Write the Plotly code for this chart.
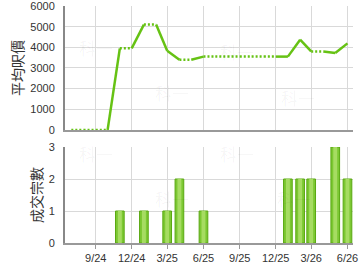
import plotly.graph_objects as go

months = ["2024-07-01","2024-08-01","2024-09-01","2024-10-01","2024-11-01","2024-12-01",
          "2025-01-01","2025-02-01","2025-03-01","2025-04-01","2025-05-01","2025-06-01",
          "2025-07-01","2025-08-01","2025-09-01","2025-10-01","2025-11-01","2025-12-01",
          "2026-01-01","2026-02-01","2026-03-01","2026-04-01","2026-05-01","2026-06-01"]
avg_price = [0,0,0,0,3950,3950,5100,5100,3830,3400,3400,3550,
             3550,3550,3550,3550,3550,3550,3550,4370,3800,3800,3720,4190]
deals = [0,0,0,0,1,0,1,0,1,2,0,1,0,0,0,0,0,0,2,2,2,0,3,2]

tick_vals = ["2024-09-01","2024-12-01","2025-03-01","2025-06-01","2025-09-01","2025-12-01","2026-03-01","2026-06-01"]
tick_text = ["9/24","12/24","3/25","6/25","9/25","12/25","3/26","6/26"]
price_ticks = [0,1000,2000,3000,4000,5000,6000]
deal_ticks = [0,1,2,3]

GREEN = "#66c214"

# build solid / dotted segments
sx, sy, dx, dy = [], [], [], []
for i in range(1, len(months)):
    seg_x = [months[i-1], months[i], None]
    seg_y = [avg_price[i-1], avg_price[i], None]
    if deals[i] > 0:
        sx += seg_x; sy += seg_y
    else:
        dx += seg_x; dy += seg_y

fig = go.Figure()
fig.add_trace(go.Scatter(x=dx, y=dy, mode="lines", line=dict(color=GREEN, width=2.5, dash="2px,2px"),
                         xaxis="x", yaxis="y", hoverinfo="skip", connectgaps=False))
fig.add_trace(go.Scatter(x=sx, y=sy, mode="lines", line=dict(color=GREEN, width=2.5),
                         xaxis="x", yaxis="y", hoverinfo="skip", connectgaps=False))

bx = [m for m, d in zip(months, deals) if d > 0]
by = [d for d in deals if d > 0]
DAY = 86400000
fig.add_trace(go.Bar(x=bx, y=by, width=[22*DAY]*len(bx), marker=dict(color="#7cc832", line=dict(color="#5aa812", width=1)),
                     xaxis="x2", yaxis="y2", hoverinfo="skip"))
fig.add_trace(go.Bar(x=bx, y=by, width=[10*DAY]*len(bx), marker=dict(color="#a6dc62", line=dict(width=0)),
                     xaxis="x2", yaxis="y2", hoverinfo="skip"))

xr = ["2024-06-15", "2026-06-15"]
grid = "#d9d9d9"
font = dict(family="Liberation Sans, Arial, sans-serif", size=11, color="#333")
common_x = dict(type="date", range=xr, tickvals=tick_vals, ticktext=tick_text, showgrid=True,
                gridcolor=grid, gridwidth=1, showline=True, linecolor="#999", linewidth=2,
                zeroline=False, tickfont=font, fixedrange=True, automargin=False,
                ticklabeloverflow="allow")
L, R, T, B = 65, 7, 6, 27
W, H = 360, 270
fig.update_layout(
    width=W, height=H, margin=dict(l=L, r=R, t=T, b=B, autoexpand=False),
    paper_bgcolor="white", plot_bgcolor="white", showlegend=False, barmode="overlay",
    xaxis=dict(common_x, anchor="y", showticklabels=False, ticks=""),
    xaxis2=dict(common_x, anchor="y2", ticks="outside", ticklen=4, tickcolor="#999"),
    yaxis=dict(domain=[0.477, 1], range=[0, 6000], tickvals=price_ticks, showgrid=True, gridcolor=grid,
               showline=True, linecolor="#888", linewidth=2, zeroline=False, tickfont=font, automargin=False,
               ticks="outside", ticklen=6, tickcolor="rgba(0,0,0,0)", ticklabeloverflow="allow",
               title=dict(text="平均呎價", font=dict(family="Noto Sans CJK TC", size=14, color="#333"), standoff=3)),
    yaxis2=dict(domain=[0, 0.405], range=[0, 3], tickvals=deal_ticks, showgrid=True, gridcolor=grid,
                showline=True, linecolor="#888", linewidth=2, zeroline=False, tickfont=font, automargin=False,
                ticks="outside", ticklen=6, tickcolor="rgba(0,0,0,0)", ticklabeloverflow="allow",
                title=dict(text="成交宗數", font=dict(family="Noto Sans CJK TC", size=14, color="#333"), standoff=3)),
)

# faint watermarks (pixel positions converted to plot-area paper coords)
pw, ph = W - L - R, H - T - B
for (x, y) in [(77, 33), (153, 93), (237, 37), (317, 97), (77, 153), (153, 213), (237, 153), (313, 213)]:
    fig.add_annotation(text="科一", x=(x - L) / pw, y=(H - B - y) / ph, xref="paper", yref="paper",
                       showarrow=False,
                       font=dict(family="Noto Sans CJK TC", size=17, color="rgba(0,0,0,0.045)"))

fig.write_html("out.html")
